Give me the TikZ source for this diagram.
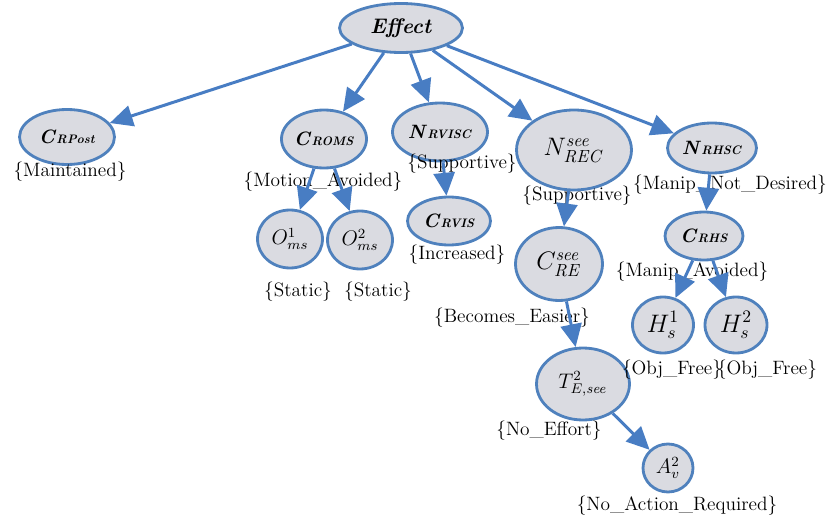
\documentclass[tikz,border=0pt]{standalone}
\usepackage{amsmath, amssymb}
\usepackage{tikz}
\usetikzlibrary{arrows.meta, shapes.geometric, positioning}
\definecolor{nodeblue}{RGB}{79, 129, 189}
\definecolor{nodegray}{RGB}{218, 219, 225}
\definecolor{arrowblue}{RGB}{72, 125, 195}
\newcommand{\bsub}[2]{\textbf{\textit{#1}}{\scriptsize\textbf{\textit{#2}}}}

\begin{document}
\begin{tikzpicture}[x=0.02cm, y=-0.02cm, every node/.style={font=\fontsize{11}{13}\selectfont},
    var/.style={ellipse, draw=nodeblue, line width=1.6pt, fill=nodegray, inner sep=0pt},
    arr/.style={draw=arrowblue, line width=1.7pt, -{Triangle[length=13pt, width=12pt]}}]
        \useasboundingbox (0,0) rectangle (836,524);

        % variables
        \node[var, minimum width=2.46cm, minimum height=0.98cm] (eff) at (401,28) {\large\textbf{\textit{Effect}}};
        \node[var, minimum width=1.9cm, minimum height=1.1cm] (crpost) at (67,137) {\bsub{C}{RPost}};
        \node[var, minimum width=1.64cm, minimum height=1.16cm] (croms) at (324,139) {\bsub{C}{ROMS}};
        \node[var, minimum width=1.9cm, minimum height=1.16cm] (nrvisc) at (440,132) {\bsub{N}{RVISC}};
        \node[var, minimum width=2.3cm, minimum height=1.6cm] (nrec) at (574,150) {\Large$N^{\mathit{see}}_{\mathit{REC}}$};
        \node[var, minimum width=1.78cm, minimum height=1.0cm] (nrhsc) at (712,148) {\bsub{N}{RHSC}};
        \node[var, minimum width=1.3cm, minimum height=1.16cm] (oms1) at (290,239) {\large$O^{1}_{ms}$};
        \node[var, minimum width=1.3cm, minimum height=1.16cm] (oms2) at (360,240) {\large$O^{2}_{ms}$};
        \node[var, minimum width=1.66cm, minimum height=0.96cm] (crvis) at (449,221) {\bsub{C}{RVIS}};
        \node[var, minimum width=1.74cm, minimum height=1.46cm] (cre) at (559,264) {\Large$C^{\mathit{see}}_{\mathit{RE}}$};
        \node[var, minimum width=1.56cm, minimum height=0.96cm] (crhs) at (704,236) {\bsub{C}{RHS}};
        \node[var, minimum width=1.22cm, minimum height=1.12cm] (hs1) at (663,325) {\Large$H^{1}_{s}$};
        \node[var, minimum width=1.24cm, minimum height=1.12cm] (hs2) at (736,325) {\Large$H^{2}_{s}$};
        \node[var, minimum width=1.86cm, minimum height=1.44cm] (tes) at (583,384) {\large$T^{2}_{E,\mathit{see}}$};
        \node[var, minimum width=1.0cm, minimum height=0.96cm] (av) at (668,468) {\large$A^{2}_{v}$};

        % states
        \foreach \n/\x/\y/\st in {
            crpost/70/172/Maintained,
            croms/323/182/Motion\_Avoided,
            nrvisc/462/164/Supportive,
            nrec/577/196/Supportive,
            nrhsc/730/185/Manip\_Not\_Desired,
            oms1/298/292/Static,
            oms2/378/292/Static,
            crvis/457/255/Increased,
            cre/512/318/Becomes\_Easier,
            crhs/692/272/Manip\_Avoided,
            hs1/672/370/Obj\_Free,
            hs2/767/370/Obj\_Free,
            tes/549/431/No\_Effort,
            av/677/506/No\_Action\_Required}{
          \node[inner sep=0pt] (st-\n) at (\x,\y) {\{\st\}};
        }

        % links
        \foreach \a/\b in {eff/crpost, eff/croms, eff/nrvisc, eff/nrec, eff/nrhsc,
            croms/oms1, croms/oms2, nrvisc/crvis, nrec/cre, nrhsc/crhs,
            crhs/hs1, crhs/hs2, cre/tes, tes/av}{
          \draw[arr] (\a) -- (\b);
        }
      \end{tikzpicture}
\end{document}
